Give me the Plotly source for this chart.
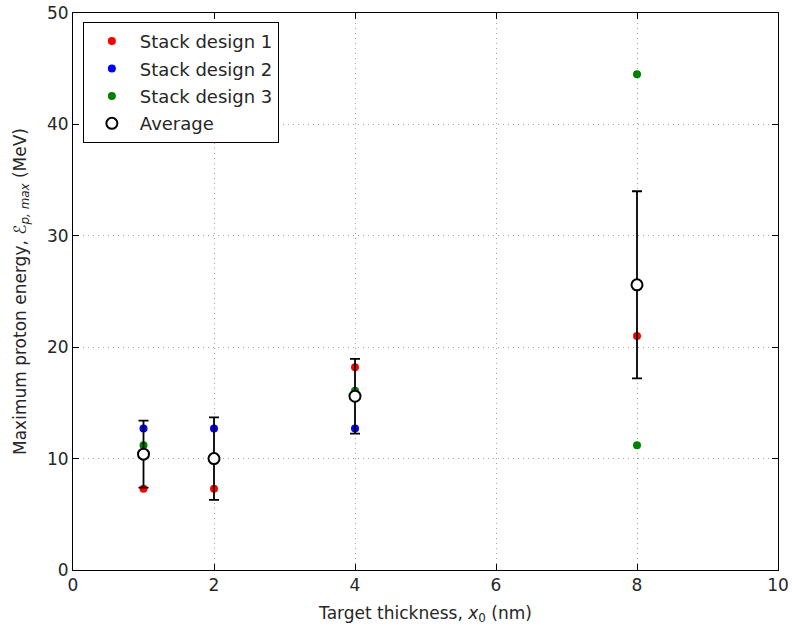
import plotly.graph_objects as go

# Maximum proton energy (MeV) vs target thickness (nm), per stack design
stack1_x = [1, 2, 4, 8]
stack1_y = [7.3, 7.3, 18.2, 21.0]

stack2_x = [1, 2, 4]
stack2_y = [12.7, 12.7, 12.7]

stack3_x = [1, 4, 8, 8]
stack3_y = [11.2, 16.1, 44.5, 11.2]

# Average over designs and its error
avg_x = [1, 2, 4, 8]
avg_y = [10.4, 10.0, 15.6, 25.6]
avg_err = [3.0, 3.7, 3.35, 8.4]

x_ticks = [0, 2, 4, 6, 8, 10]
y_ticks = [0, 10, 20, 30, 40, 50]

FONT = "DejaVu Sans"
TXT = "#262626"

fig = go.Figure()

for name, xs, ys, col in [
    ("Stack design 1", stack1_x, stack1_y, "#ff0000"),
    ("Stack design 2", stack2_x, stack2_y, "#0000ff"),
    ("Stack design 3", stack3_x, stack3_y, "#008000"),
]:
    fig.add_trace(go.Scatter(
        x=xs, y=ys, mode="markers", name=name, legendgroup=name,
        marker=dict(color=col, size=8, line=dict(width=0)),
    ))

fig.add_trace(go.Scatter(
    x=avg_x, y=avg_y, mode="markers", name="Average", legendgroup="Average",
    marker=dict(symbol="circle", size=11, color="white",
                line=dict(color="black", width=2)),
    error_y=dict(type="data", array=avg_err, visible=True,
                 color="black", thickness=1.8, width=5),
))

axis_common = dict(
    showline=True, linecolor="black", linewidth=1, mirror="ticks",
    ticks="inside", ticklen=6, tickcolor="black", tickwidth=1,
    showgrid=True, gridcolor="#a0a0a0", griddash="1px,4px", gridwidth=1,
    zeroline=False, automargin=False,
    tickfont=dict(family=FONT, size=17, color=TXT),
)

fig.update_layout(
    width=792, height=630,
    margin=dict(l=73, r=14, t=13, b=60),
    plot_bgcolor="white", paper_bgcolor="white",
    font=dict(family=FONT, size=17, color=TXT),
    xaxis=dict(range=[0, 10], tickvals=x_ticks,
               title=dict(text="Target thickness, <i>x</i><sub>0</sub> (nm)",
                          font=dict(family=FONT, size=17, color=TXT), standoff=12),
               **axis_common),
    yaxis=dict(range=[0, 50], tickvals=y_ticks,
               title=dict(text="Maximum proton energy, <i>ℰ</i><sub><i>p, max</i></sub> (MeV)",
                          font=dict(family=FONT, size=17, color=TXT), standoff=16),
               **axis_common),
    legend=dict(x=0.014, y=0.984, xanchor="left", yanchor="top",
                bgcolor="white", bordercolor="black", borderwidth=1,
                font=dict(family=FONT, size=18, color=TXT),
                itemwidth=46, tracegroupgap=1),
    showlegend=True,
)

fig.write_html("out.html")
